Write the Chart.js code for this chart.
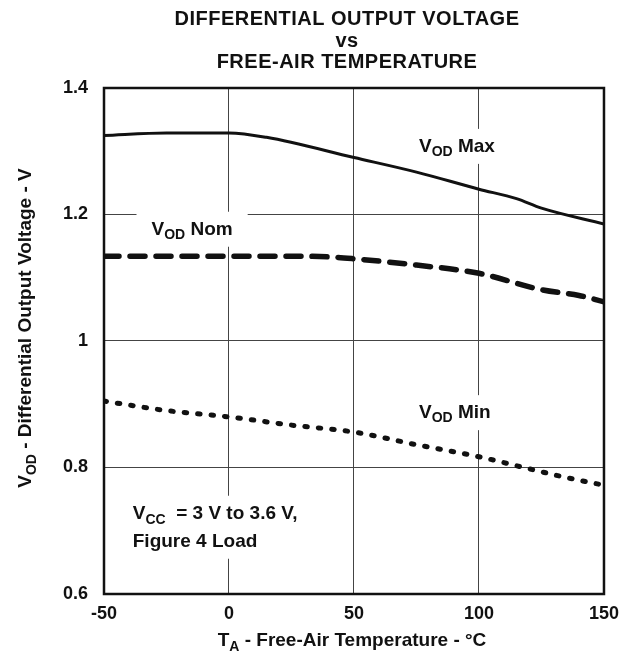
<!DOCTYPE html>
<html>
<head>
<meta charset="utf-8">
<script src="https://cdn.jsdelivr.net/npm/chart.js@4.4.1/dist/chart.umd.min.js"></script>
<style>
  html, body { margin: 0; padding: 0; background: #fff; }
  canvas { display: block; }
</style>
</head>
<body>
<canvas id="chart" width="628" height="658"></canvas>
<script>
// values
const tempMax = [-50, -25, 0, 15, 50, 75, 100, 115, 125, 150];
const vodMax = [1.325, 1.329, 1.329, 1.322, 1.29, 1.267, 1.24, 1.225, 1.21, 1.185];

const tempNom = [-50, -25, 0, 25, 40, 50, 75, 100, 125, 140, 150];
const vodNom = [1.134, 1.134, 1.134, 1.134, 1.133, 1.130, 1.120, 1.107, 1.081, 1.072, 1.062];

const tempMin = [-50, -25, 0, 25, 50, 75, 100, 120, 135, 150];
const vodMin = [0.905, 0.89, 0.88, 0.867, 0.856, 0.836, 0.817, 0.798, 0.784, 0.772];

const xTicks = [-50, 0, 50, 100, 150];
const yTicks = [0.6, 0.8, 1, 1.2, 1.4];
const yTickLabels = ["0.6", "0.8", "1", "1.2", "1.4"];

const FONT = "'Liberation Sans', Arial, sans-serif";

function pts(xs, ys) {
    return xs.map((x, i) => ({ x: x, y: ys[i] }));
}

// text made of runs, some of them subscripts
function runWidth(ctx, parts) {
    let w = 0;
    parts.forEach(p => {
        ctx.font = "bold " + p.size + "px " + FONT;
        w += ctx.measureText(p.t).width;
    });
    return w;
}

function drawRuns(ctx, x, y, parts) {
    let cx = x;
    parts.forEach(p => {
        ctx.font = "bold " + p.size + "px " + FONT;
        ctx.fillText(p.t, cx, y + (p.dy || 0));
        cx += ctx.measureText(p.t).width;
    });
}

// in-plot labels, anchored in data coordinates
const notes = [
    { x: 76, y: 1.299, lines: [[{ t: "V", size: 19 }, { t: "OD", size: 14, dy: 4 }, { t: " Max", size: 19 }]] },
    { x: -31, y: 1.168, lines: [[{ t: "V", size: 19 }, { t: "OD", size: 14, dy: 4 }, { t: " Nom", size: 19 }]] },
    { x: 76, y: 0.878, lines: [[{ t: "V", size: 19 }, { t: "OD", size: 14, dy: 4 }, { t: " Min", size: 19 }]] },
    { x: -38.5, y: 0.719, lines: [
        [{ t: "V", size: 19 }, { t: "CC", size: 14, dy: 5 }, { t: "  = 3 V to 3.6 V,", size: 19 }],
        [{ t: "Figure 4 Load", size: 19 }]
    ] }
];

const labelsPlugin = {
    id: "labels",
    beforeDatasetsDraw(chart) {
        const ctx = chart.ctx;
        const xs = chart.scales.x, ys = chart.scales.y;
        ctx.save();
        ctx.fillStyle = "#fff";
        notes.forEach(n => {
            const px = xs.getPixelForValue(n.x), py = ys.getPixelForValue(n.y);
            let w = 0;
            n.lines.forEach(l => { w = Math.max(w, runWidth(ctx, l)); });
            const h = (n.lines.length - 1) * 28;
            ctx.fillRect(px - 15, py - 23, w + 30, h + 35);
        });
        ctx.restore();
    },
    afterDatasetsDraw(chart) {
        const ctx = chart.ctx;
        const xs = chart.scales.x, ys = chart.scales.y;
        const area = chart.chartArea;
        ctx.save();
        // frame
        ctx.strokeStyle = "#111";
        ctx.lineWidth = 2.5;
        ctx.strokeRect(area.left, area.top, area.right - area.left, area.bottom - area.top);

        ctx.fillStyle = "#111";
        ctx.textBaseline = "alphabetic";
        ctx.textAlign = "left";
        notes.forEach(n => {
            const px = xs.getPixelForValue(n.x), py = ys.getPixelForValue(n.y);
            n.lines.forEach((l, i) => drawRuns(ctx, px, py + i * 28, l));
        });

        // title
        ctx.letterSpacing = "0.5px";
        ["DIFFERENTIAL OUTPUT VOLTAGE", "vs", "FREE-AIR TEMPERATURE"].forEach((t, i) => {
            const parts = [{ t: t, size: 20 }];
            const w = runWidth(ctx, parts);
            drawRuns(ctx, 347 - w / 2, 25 + i * 21.5, parts);
        });
        ctx.letterSpacing = "0px";

        // x axis title
        const xt = [{ t: "T", size: 19 }, { t: "A", size: 14, dy: 5 }, { t: " - Free-Air Temperature - \u00B0C", size: 19 }];
        const xw = runWidth(ctx, xt);
        drawRuns(ctx, 352 - xw / 2, 646, xt);

        // y axis title
        const yt = [{ t: "V", size: 19 }, { t: "OD", size: 14, dy: 5 }, { t: " - Differential Output Voltage - V", size: 19 }];
        const yw = runWidth(ctx, yt);
        ctx.translate(31, 328);
        ctx.rotate(-Math.PI / 2);
        drawRuns(ctx, -yw / 2, 0, yt);
        ctx.restore();
    }
};

const ctx = document.getElementById("chart").getContext("2d");

new Chart(ctx, {
    type: "line",
    data: {
        datasets: [
            {
                label: "VOD Max",
                data: pts(tempMax, vodMax),
                borderColor: "#111",
                borderWidth: 3,
                pointRadius: 0,
                cubicInterpolationMode: "monotone"
            },
            {
                label: "VOD Nom",
                data: pts(tempNom, vodNom),
                borderColor: "#111",
                borderWidth: 5.5,
                borderDash: [15, 11],
                borderCapStyle: "round",
                pointRadius: 0,
                cubicInterpolationMode: "monotone"
            },
            {
                label: "VOD Min",
                data: pts(tempMin, vodMin),
                borderColor: "#111",
                borderWidth: 5,
                borderDash: [2.5, 11],
                borderCapStyle: "round",
                pointRadius: 0,
                cubicInterpolationMode: "monotone"
            }
        ]
    },
    options: {
        responsive: false,
        animation: false,
        devicePixelRatio: 1,
        layout: { padding: { left: 0, right: 18, top: 88, bottom: 0 } },
        plugins: {
            legend: { display: false },
            tooltip: { enabled: false }
        },
        scales: {
            x: {
                type: "linear",
                min: -50,
                max: 150,
                afterBuildTicks: s => { s.ticks = xTicks.map(v => ({ value: v })); },
                afterFit: s => { s.height = 64; },
                grid: { color: "#444", lineWidth: 1, drawTicks: false },
                border: { display: false },
                ticks: {
                    padding: 9,
                    color: "#111",
                    font: { family: FONT, size: 18, weight: "bold" }
                }
            },
            y: {
                min: 0.6,
                max: 1.4,
                afterBuildTicks: s => { s.ticks = yTicks.map(v => ({ value: v })); },
                afterFit: s => { s.width = 104; },
                grid: { color: "#444", lineWidth: 1, drawTicks: false },
                border: { display: false },
                ticks: {
                    padding: 16,
                    color: "#111",
                    font: { family: FONT, size: 18, weight: "bold" },
                    callback: (v, i) => yTickLabels[i]
                }
            }
        }
    },
    plugins: [labelsPlugin]
});
</script>
</body>
</html>
